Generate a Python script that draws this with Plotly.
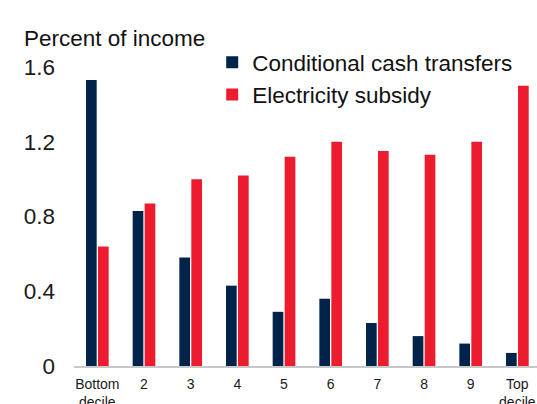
import plotly.graph_objects as go

# Spending on each programme by income decile, percent of household income
deciles = ["Bottom<br>decile", "2", "3", "4", "5", "6", "7", "8", "9", "Top<br>decile"]
cash_transfers = [1.53, 0.83, 0.58, 0.43, 0.29, 0.36, 0.23, 0.16, 0.12, 0.07]
electricity_subsidy = [0.64, 0.87, 1.00, 1.02, 1.12, 1.20, 1.15, 1.13, 1.20, 1.50]
y_ticks = [0, 0.4, 0.8, 1.2, 1.6]
y_tick_text = ["0", "0.4", "0.8", "1.2", "1.6"]

NAVY = "#002349"
RED = "#ED1B2E"
FONT = "Liberation Sans, Arial, Helvetica, sans-serif"

W, H = 537, 404
L, R, T, B = 73.7, 0, 67, 38
plot_w = W - L - R
plot_h = H - T - B

fig = go.Figure()
fig.add_trace(go.Bar(
    x=list(range(len(deciles))), y=cash_transfers, name="Conditional cash transfers",
    marker=dict(color=NAVY, line=dict(width=0)),
))
fig.add_trace(go.Bar(
    x=list(range(len(deciles))), y=electricity_subsidy, name="Electricity subsidy",
    marker=dict(color=RED, line=dict(width=0)),
))

fig.update_layout(
    width=W, height=H,
    margin=dict(l=L, r=R, t=T, b=B, pad=0, autoexpand=False),
    paper_bgcolor="white", plot_bgcolor="white",
    barmode="group", bargap=0.486, bargroupgap=0.11,
    font=dict(family=FONT, color="#1a1a1a"),
    showlegend=True,
    legend=dict(
        x=(212 - L) / plot_w, y=(H - B - 41) / plot_h,
        xanchor="left", yanchor="top",
        bgcolor="rgba(0,0,0,0)",
        font=dict(size=22.5, family=FONT, color="#111111"),
        itemwidth=30, tracegroupgap=0,
    ),
    xaxis=dict(
        range=[-0.5, -0.5 + plot_w / 46.7],
        tickmode="array", tickvals=list(range(len(deciles))), ticktext=deciles,
        tickfont=dict(size=14, family=FONT, color="#1a1a1a"),
        showgrid=False, zeroline=False, automargin=False,
        showline=True, linecolor="#c8c8c8", linewidth=1.5,
        ticks="", ticklabelstandoff=4,
    ),
    yaxis=dict(
        range=[0, 1.6],
        tickmode="array", tickvals=y_ticks, ticktext=y_tick_text,
        tickfont=dict(size=22.5, family=FONT, color="#1a1a1a"),
        showgrid=False, zeroline=False, showline=False, automargin=False,
        ticks="", ticklabelstandoff=18,
    ),
    annotations=[dict(
        text="Percent of income", xref="paper", yref="paper",
        x=(21.5 - L) / plot_w, y=(H - B - 38.5) / plot_h,
        xanchor="left", yanchor="middle", showarrow=False,
        font=dict(size=22.5, family=FONT, color="#111111"),
    )],
)

fig.write_html("out.html")
